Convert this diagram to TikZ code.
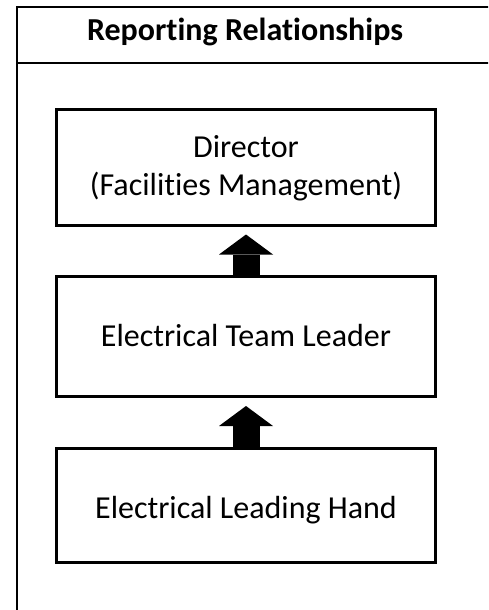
\documentclass[tikz,border=0pt]{standalone}
\usepackage{fontspec}
\setmainfont{Carlito}[RawFeature=-liga]
\usetikzlibrary{arrows.meta}
\begin{document}
\begin{tikzpicture}[x=1pt,y=-1pt,
  rolebox/.style={draw,line width=3pt,rectangle,inner sep=0pt,minimum width=379pt,align=center,
    font=\fontsize{32}{38}\selectfont},
  uparrow/.style={line width=27pt,-{Triangle[width=54pt,length=20pt,line width=0pt]},shorten >=8pt}]
\useasboundingbox (0,0) rectangle (488,610);
\begin{scope}
\clip (0,0) rectangle (488,610);
\coordinate (fbl) at (17,620);
\coordinate (ftl) at (17,7);
\coordinate (ftr) at (500,7);
\coordinate (hl) at (17,63);
\coordinate (hr) at (500,63);
\draw[line width=2pt] (fbl) -- (ftl) -- (ftr);
\draw[line width=2pt] (hl) -- (hr);
\end{scope}
\node[font=\bfseries\fontsize{32}{38}\selectfont,anchor=base] (title) at (245,41) {Reporting Relationships};
\node[rolebox,minimum height=116pt,text height=56pt,text depth=0pt] (dir) at (246,167) {Director\\(Facilities Management)};
\node[rolebox,minimum height=120pt,text height=20pt,text depth=0pt] (etl) at (246,336.5) {Electrical Team Leader};
\node[rolebox,minimum height=114pt,text height=25pt,text depth=0pt] (elh) at (246,505.5) {Electrical Leading Hand};
\draw[uparrow] (etl.north) -- (dir.south);
\draw[uparrow] (elh.north) -- (etl.south);
\end{tikzpicture}
\end{document}
